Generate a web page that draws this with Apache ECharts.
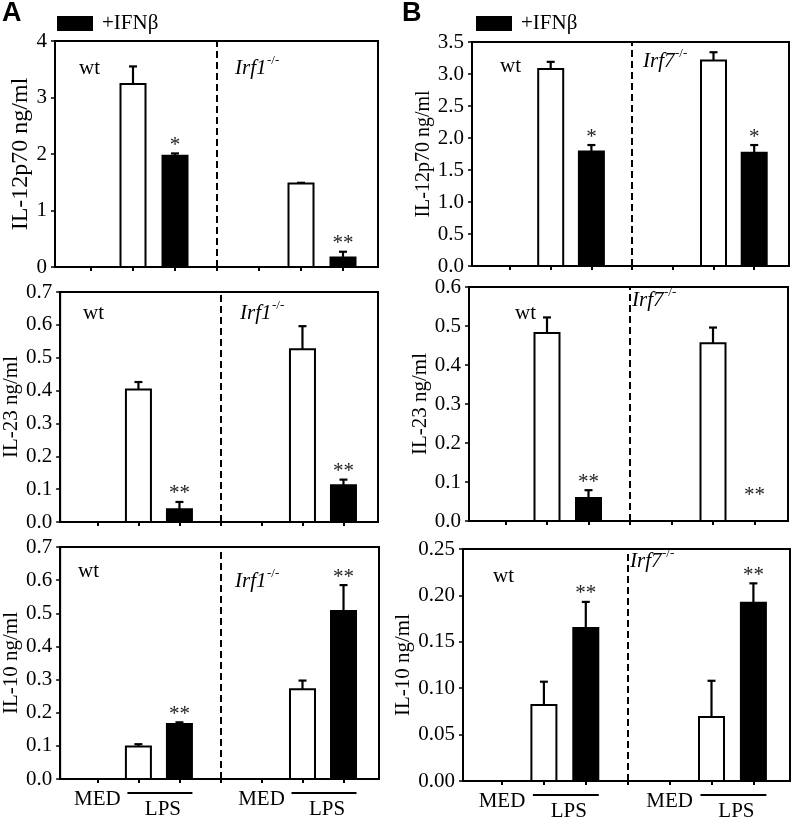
<!DOCTYPE html>
<html><head><meta charset="utf-8">
<script src="https://cdn.jsdelivr.net/npm/echarts@6/dist/echarts.min.js"></script>
<style>html,body{margin:0;padding:0;background:#fff}#c{width:794px;height:820px}</style>
</head><body><div id="c"></div>
<script>
// ---------- data ----------
// slot order in every panel: wt MED, wt LPS, wt LPS+IFNβ, KO MED, KO LPS, KO LPS+IFNβ
const slotX = [0, 1, 2, 4, 5, 6];
const isIFN = [false, false, true, false, false, true];

const A_IL12_mean = [0, 3.24, 1.97, 0, 1.48, 0.17];
const A_IL12_sd   = [0, 0.31, 0.04, 0, 0.01, 0.10];
const A_IL12_sig  = ["", "", "*", "", "", "**"];

const A_IL23_mean = [0, 0.403, 0.039, 0, 0.526, 0.112];
const A_IL23_sd   = [0, 0.023, 0.022, 0, 0.070, 0.017];
const A_IL23_sig  = ["", "", "**", "", "", "**"];

const A_IL10_mean = [0, 0.098, 0.166, 0, 0.271, 0.507];
const A_IL10_sd   = [0, 0.007, 0.005, 0, 0.026, 0.078];
const A_IL10_sig  = ["", "", "**", "", "", "**"];

const B_IL12_mean = [0, 3.08, 1.79, 0, 3.21, 1.77];
const B_IL12_sd   = [0, 0.11, 0.10, 0, 0.13, 0.12];
const B_IL12_sig  = ["", "", "*", "", "", "*"];

const B_IL23_mean = [0, 0.482, 0.059, 0, 0.456, 0];
const B_IL23_sd   = [0, 0.040, 0.020, 0, 0.040, 0];
const B_IL23_sig  = ["", "", "**", "", "", "**"];
const B_IL23_sigAt = [null, null, null, null, null, 0.044];

const B_IL10_mean = [0, 0.082, 0.165, 0, 0.069, 0.192];
const B_IL10_sd   = [0, 0.025, 0.028, 0, 0.039, 0.021];
const B_IL10_sig  = ["", "", "**", "", "", "**"];

const yTitles = ["IL-12p70 ng/ml", "IL-23 ng/ml", "IL-10 ng/ml"];
const groupA = ["wt", "Irf1"];
const groupB = ["wt", "Irf7"];
const koSup = "-/-";
const xLabelMED = "MED";
const xLabelLPS = "LPS";
const legendName = "+IFNβ";

// ---------- layout ----------
const SERIF = "'Liberation Serif','Times New Roman',serif";
const panels = [
  {mean:A_IL12_mean, sd:A_IL12_sd, sig:A_IL12_sig, ymax:4, yint:1, dec:0, title:yTitles[0], tsize:24, gap:21,
   left:55, right:378, top:41, bottom:267, c0:91, step:42, bottomAxis:false,
   g:groupA, wt:[79,75], ko:[235,75]},
  {mean:A_IL23_mean, sd:A_IL23_sd, sig:A_IL23_sig, ymax:0.7, yint:0.1, dec:1, title:yTitles[1], tsize:21, gap:28,
   left:54, right:378, top:292, bottom:522, c0:92, step:41.8, bottomAxis:false,
   g:groupA, wt:[83,320], ko:[240,320]},
  {mean:A_IL10_mean, sd:A_IL10_sd, sig:A_IL10_sig, ymax:0.7, yint:0.1, dec:1, title:yTitles[2], tsize:21, gap:30,
   left:51, right:379, top:547, bottom:779, c0:89.3, step:42.2, bottomAxis:true,
   g:groupA, wt:[78,578], ko:[235,588]},
  {mean:B_IL12_mean, sd:B_IL12_sd, sig:B_IL12_sig, ymax:3.5, yint:0.5, dec:1, title:yTitles[0], tsize:20, gap:32,
   left:472, right:789, top:42, bottom:266, c0:510, step:40.7, bottomAxis:false,
   g:groupB, wt:[500,73], ko:[643,68]},
  {mean:B_IL23_mean, sd:B_IL23_sd, sig:B_IL23_sig, sigAt:B_IL23_sigAt, ymax:0.6, yint:0.1, dec:1, title:yTitles[1], tsize:21, gap:31,
   left:469, right:788, top:287, bottom:521, c0:505.5, step:41.5, bottomAxis:false,
   g:groupB, wt:[515,320], ko:[632,307]},
  {mean:B_IL10_mean, sd:B_IL10_sd, sig:B_IL10_sig, ymax:0.25, yint:0.05, dec:2, title:yTitles[2], tsize:21, gap:39,
   left:463, right:790, top:549, bottom:781, c0:502, step:41.9, bottomAxis:true,
   g:groupB, wt:[493,583], ko:[630,568]}
];

function makeRender(p, fill) {
  return function (params, api) {
    const idx = api.value(3);
    const x = api.value(0), v = api.value(1), sd = api.value(2);
    const base = api.coord([x, 0]);
    const top = api.coord([x, v]);
    const et = api.coord([x, v + sd]);
    const bw = 25, cap = 4;
    const ch = [];
    if (v > 0) {
      ch.push({type:'rect', shape:{x:base[0]-bw/2, y:top[1], width:bw, height:base[1]-top[1]},
               style:{fill:fill, stroke:'#000', lineWidth:2}});
    }
    if (sd > 0) {
      ch.push({type:'line', shape:{x1:base[0], y1:top[1], x2:base[0], y2:et[1]}, style:{stroke:'#000', lineWidth:2.2}});
      ch.push({type:'line', shape:{x1:base[0]-cap, y1:et[1], x2:base[0]+cap, y2:et[1]}, style:{stroke:'#000', lineWidth:2.2}});
    }
    const s = p.sig[idx];
    if (s) {
      let ay = et[1];
      if (p.sigAt && p.sigAt[idx] != null) ay = api.coord([x, p.sigAt[idx]])[1];
      ch.push({type:'text', x:base[0], y:ay - 8,
               style:{text:s, font:'21px ' + SERIF, fill:'#222', align:'center', verticalAlign:'middle'}});
    }
    return {type:'group', children:ch};
  };
}

const grid = [], xAxis = [], yAxis = [], series = [];
panels.forEach((p, k) => {
  grid.push({left:p.left, top:p.top, width:p.right-p.left, height:p.bottom-p.top,
             show:true, borderColor:'#000', borderWidth:2, backgroundColor:'transparent'});
  xAxis.push({type:'value', gridIndex:k, min:(p.left-p.c0)/p.step, max:(p.right-p.c0)/p.step,
    axisLine:{onZero:false, lineStyle:{color:'#000', width:2}},
    axisTick:{show:true, length:4, lineStyle:{color:'#000', width:2}, customValues:[0,1,2,3,4,5,6]},
    axisLabel:p.bottomAxis ? {show:true, customValues:[0,4], formatter:()=>xLabelMED, margin:10,
                 color:'#000', fontFamily:SERIF, fontSize:21} : {show:false},
    splitLine:{show:false}});
  yAxis.push({type:'value', gridIndex:k, min:0, max:p.ymax, interval:p.yint,
    name:p.title, nameLocation:'middle', nameRotate:90, nameGap:p.gap,
    nameTextStyle:{fontFamily:SERIF, fontSize:p.tsize, color:'#000'},
    axisLine:{show:true, onZero:false, lineStyle:{color:'#000', width:2}},
    axisTick:{show:true, length:4, lineStyle:{color:'#000', width:1.5}},
    axisLabel:{color:'#000', fontFamily:SERIF, fontSize:21, margin:8,
               formatter:(v)=>Number(v).toFixed(p.dec)},
    splitLine:{show:false}});
  const all = slotX.map((x, i) => [x, p.mean[i], p.sd[i], i]);
  series.push({type:'custom', name:'LPS', xAxisIndex:k, yAxisIndex:k, itemStyle:{color:'#fff'},
    renderItem:makeRender(p, '#fff'), data:all.filter((d, i) => !isIFN[i]), clip:false,
    markLine:{silent:true, symbol:'none', label:{show:false},
      lineStyle:{color:'#000', width:2, type:[7,4]}, data:[{xAxis:3}]}});
  series.push({type:'custom', name:legendName, xAxisIndex:k, yAxisIndex:k, itemStyle:{color:'#000'},
    renderItem:makeRender(p, '#000'), data:all.filter((d, i) => isIFN[i]), clip:false});
});

const legendCommon = {padding:0, itemWidth:36, itemHeight:15, icon:'rect', selectedMode:false,
  data:[legendName], textStyle:{fontFamily:SERIF, fontSize:21, color:'#000', padding:[0,0,0,4]}};

const chart = echarts.init(document.getElementById('c'));
chart.setOption({
  animation:false,
  backgroundColor:'#fff',
  grid, xAxis, yAxis, series,
  legend:[Object.assign({left:57, top:13}, legendCommon), Object.assign({left:476, top:13}, legendCommon)]
});

// ---------- annotations (group labels, LPS bars, panel letters) ----------
const gfx = [
  {type:'text', left:2, top:0, style:{text:'A', font:'bold 27px "Liberation Sans",Arial,sans-serif', fill:'#000'}},
  {type:'text', left:402, top:0, style:{text:'B', font:'bold 27px "Liberation Sans",Arial,sans-serif', fill:'#000'}}
];
panels.forEach((p, k) => {
  gfx.push({type:'text', x:p.wt[0], y:p.wt[1] + 4, style:{text:p.g[0], font:'21px ' + SERIF, fill:'#000', verticalAlign:'bottom'}});
  gfx.push({type:'text', x:p.ko[0], y:p.ko[1] + 4, style:{text:p.g[1], font:'italic 21px ' + SERIF, fill:'#000', verticalAlign:'bottom'}});
  gfx.push({type:'text', x:p.ko[0] + 32, y:p.ko[1] - 14, style:{text:koSup, font:'13px ' + SERIF, fill:'#000', verticalAlign:'middle'}});
  if (p.bottomAxis) {
    [[1, 2], [5, 6]].forEach(([a, b]) => {
      const pa = chart.convertToPixel({xAxisIndex:k}, a);
      const pb = chart.convertToPixel({xAxisIndex:k}, b);
      const y = p.bottom + 14;
      gfx.push({type:'line', shape:{x1:pa - 11, y1:y, x2:pb + 13, y2:y}, style:{stroke:'#000', lineWidth:2}});
      gfx.push({type:'text', x:(pa + pb) / 2 + 4, y:y + 16, style:{text:xLabelLPS, font:'21px ' + SERIF, fill:'#000', align:'center', verticalAlign:'middle'}});
    });
  }
});
chart.setOption({graphic:gfx});
</script></body></html>
